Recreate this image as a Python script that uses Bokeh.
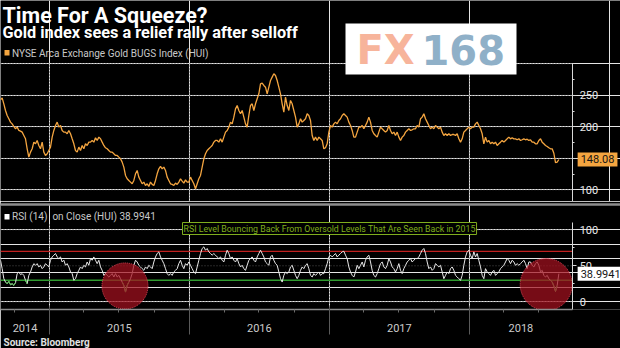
import numpy as np
import pandas as pd
from bokeh.plotting import figure
from bokeh.layouts import column
from bokeh.models import (Range1d, LinearAxis, DatetimeAxis, FixedTicker, DatetimeTickFormatter,
                          Label, BoxAnnotation, Legend, LegendItem, Title)
from bokeh.embed import file_html
from bokeh.resources import INLINE

# ---------------- data ----------------
hui = [
    242.8, 246.0, 236.5, 225.9, 218.0, 212.7, 207.4, 204.7, 200.5, 196.8,
    199.5, 194.2, 193.1, 191.5, 186.2, 180.9, 165.1, 151.8, 159.8, 165.1,
    175.6, 173.0, 178.3, 170.4, 165.1, 175.6, 159.8, 154.5, 157.1, 162.4,
    167.7, 183.6, 194.2, 202.1, 207.4, 199.5, 202.1, 194.2, 191.5, 191.5,
    188.9, 194.2, 188.9, 180.9, 173.0, 162.4, 159.8, 167.7, 162.4, 170.4,
    165.1, 173.0, 170.4, 175.6, 175.6, 178.3, 175.6, 182.5, 178.3, 183.6,
    180.9, 175.6, 170.4, 166.7, 165.1, 162.4, 159.8, 159.8, 157.1, 154.5,
    154.5, 151.8, 149.2, 143.9, 136.0, 122.7, 117.5, 114.8, 112.2, 109.5,
    114.8, 125.4, 130.7, 120.1, 114.8, 109.5, 112.2, 106.9, 109.5, 105.3,
    112.2, 108.5, 106.9, 114.8, 125.4, 133.3, 137.0, 133.3, 136.0, 130.7,
    120.1, 114.8, 109.5, 108.5, 106.9, 110.6, 108.5, 112.2, 117.5, 113.8,
    110.6, 115.9, 112.2, 112.2, 120.1, 114.8, 109.5, 101.6, 109.5, 117.5,
    122.7, 136.0, 149.2, 157.1, 162.4, 165.1, 167.7, 170.4, 175.6, 178.3,
    178.3, 175.6, 180.9, 175.6, 183.6, 191.5, 194.2, 199.5, 207.4, 204.7,
    215.3, 228.5, 233.8, 225.9, 220.6, 225.9, 215.3, 204.7, 199.5, 218.0,
    233.8, 236.5, 225.9, 236.5, 244.4, 252.4, 268.2, 269.3, 265.6, 262.9,
    252.4, 262.9, 273.5, 278.8, 284.1, 281.4, 273.5, 262.9, 252.4, 236.5,
    223.3, 247.1, 233.8, 225.9, 241.8, 236.5, 225.9, 215.3, 199.5, 204.7,
    212.7, 207.4, 210.0, 212.7, 220.6, 218.0,
    210.0, 186.2, 178.3, 183.6, 178.3, 183.6, 180.9, 178.3, 165.1, 166.7,
    173.0, 191.5, 202.1, 199.5, 204.7, 207.4, 204.7, 210.0, 212.7, 218.0,
    220.6, 218.0, 215.3, 207.4, 202.1, 194.2, 183.6, 183.6, 191.5, 199.5,
    199.5, 202.1, 196.8, 202.1, 207.4, 215.3, 207.4, 194.2, 188.9, 186.2,
    183.6, 191.5, 199.5, 196.8, 194.2, 191.5, 194.2, 202.1, 194.2, 188.9,
    191.5, 186.2, 191.5, 183.6, 178.3, 183.6, 186.2, 191.5, 194.2, 196.8,
    194.2, 195.2, 196.8, 196.8, 202.1, 199.5, 212.7, 215.3, 220.6, 212.7,
    207.4, 202.1, 196.8, 199.5, 196.8, 202.1, 199.5, 196.8, 199.5, 191.5,
    186.2, 188.9, 186.2, 188.9, 186.2, 187.8, 187.8, 186.2, 188.9, 180.9,
    175.6, 180.9, 191.5, 194.2, 196.8, 199.5, 196.8, 199.5, 199.5, 204.7,
    207.4, 202.1, 196.8, 188.9, 173.0, 183.6, 175.6, 178.3, 173.0, 175.6,
    173.0, 175.6, 170.4, 173.0, 175.6, 178.3, 175.6, 178.3, 180.9, 183.6,
    180.9, 182.5, 180.9, 180.9, 179.4, 180.9, 178.3, 179.4, 180.9, 179.4,
    180.4, 178.3, 179.4, 175.6, 175.6, 173.0, 173.0, 178.3, 180.9, 175.6,
    173.0, 170.4, 168.8, 166.7, 165.1,
    165.0, 158.0, 143.0, 144.0, 148.08,
]

rsi = [
    57.7, 46.0, 32.1, 27.4, 25.1, 28.4, 23.7, 25.1, 22.8, 26.5,
    39.1, 41.4, 37.7, 39.1, 36.7, 29.8, 25.1, 36.7, 41.4, 48.4,
    53.0, 50.7, 53.0, 48.4, 50.7, 46.0, 48.4, 53.0, 50.7, 48.4,
    57.7, 62.3, 64.7, 67.0, 62.3, 60.0, 62.3, 55.3, 57.7, 50.7,
    53.0, 48.4, 41.4, 39.1, 29.8, 32.1, 39.1, 43.7, 48.4, 46.0,
    50.7, 48.4, 55.3, 50.7, 60.0, 57.7, 62.3, 57.7, 53.0, 57.7,
    48.4, 43.7, 36.7, 39.1, 36.7, 34.4, 36.7, 39.1, 34.4, 39.1,
    34.4, 36.7, 32.1, 27.4, 22.8, 13.5, 22.8, 27.4, 32.1, 39.1,
    50.7, 57.7, 55.3, 50.7, 48.4, 46.0, 43.7,
    48.4, 46.0, 50.7, 48.4, 46.0, 55.3, 62.3, 67.0, 69.3, 62.3,
    57.7, 53.0, 46.0, 39.1, 36.7, 39.1, 36.7, 41.4, 43.7, 46.0,
    53.0, 57.7, 50.7, 46.0, 53.0, 50.7, 55.3, 50.7, 46.0, 41.4,
    39.1, 48.4, 57.7, 67.0, 74.0, 76.3, 71.6, 74.0, 69.3, 67.0,
    64.7, 67.0, 64.7, 62.3, 60.0, 62.3, 57.7, 55.3, 64.7, 71.6,
    67.0, 60.0, 62.3, 57.7, 55.3, 60.0, 53.0, 48.4, 50.7, 46.0,
    43.7, 50.7, 57.7, 60.0, 62.3, 57.7, 55.3, 62.3, 67.0, 71.6,
    67.0, 62.3, 55.3, 53.0, 50.7, 62.3, 64.7, 57.7, 53.0, 50.7,
    41.4, 32.1, 27.4, 36.7, 41.4, 39.1, 41.4,
    48.4, 50.7, 43.7, 36.7, 32.1, 36.7, 43.7, 48.4, 46.0, 50.7,
    53.0, 46.0, 36.7, 34.4, 39.1, 36.7, 39.1, 41.4, 36.7, 39.1,
    39.1, 46.0, 53.0, 62.3, 64.7, 62.3, 64.7, 67.0, 62.3, 64.7,
    67.0, 69.3, 70.2, 64.7, 60.0, 48.4, 41.4, 36.7, 34.4, 41.4,
    50.7, 46.0, 50.7, 55.3, 48.4, 57.7, 62.3, 64.7, 55.3, 43.7,
    36.7, 34.4, 39.1, 46.0, 53.0, 55.3, 48.4, 46.0, 50.7, 60.0,
    55.3, 48.4, 46.0, 41.4, 46.0, 53.0, 43.7, 39.1, 46.0, 50.7,
    55.3, 57.7, 60.0, 55.3, 57.7, 60.0, 60.0, 62.3, 67.0, 71.6,
    74.0, 67.0, 55.3, 46.0, 48.4, 43.7, 46.0,
    53.0, 50.7, 48.4, 50.7, 41.4, 32.1, 36.7, 41.4, 39.1, 46.0,
    48.4, 43.7, 36.7, 34.4, 32.1, 29.8, 36.7, 50.7, 62.3, 69.3,
    71.6, 64.7, 60.0, 69.3, 62.3, 67.0, 57.7, 48.4, 36.7, 32.1,
    46.0, 41.4, 39.1, 36.7, 41.4, 43.7, 36.7, 39.1, 41.4, 46.0,
    48.4, 50.7, 55.3, 60.0, 57.7, 53.0, 57.7, 55.3, 50.7, 53.0,
    50.7, 53.0, 55.3, 57.7, 53.0, 46.0, 55.3, 55.3, 50.7, 48.4,
    53.0, 55.3, 50.7, 41.4, 43.7, 36.7, 34.4, 36.7, 32.1, 29.8,
    27.4, 22.0, 14.4, 22.8, 38.9941,
]

first_date = "2014-08-26"
last_date = "2018-08-23"
view_start = "2014-08-26"
view_end = "2018-09-28"      # where the value axis sits
frame_end = "2019-01-31"     # right edge of the picture
year_starts = ["2015-01-01", "2016-01-01", "2017-01-01", "2018-01-01"]
quarter_starts = ["2014-10-01", "2015-04-01", "2015-07-01", "2015-10-01", "2016-04-01",
                  "2016-07-01", "2016-10-01", "2017-04-01", "2017-07-01", "2017-10-01",
                  "2018-04-01", "2018-07-01"]
price_ticks = [100, 150, 200, 250]
price_minor = [125, 175, 225, 275, 300]
price_grid = [100, 150, 200, 250, 300]
rsi_ticks = [0, 50, 100]
rsi_minor = [25, 75]
overbought, oversold = 70, 30
last_price = 148.08
last_rsi = 38.9941
highlight_dates = ["2015-07-17", "2018-07-21"]
highlight_rsi = [22, 24]
highlight_radius = [23, 26]

title = "Time For A Squeeze?"
subtitle = "Gold index sees a relief rally after selloff"
price_name = "NYSE Arca Exchange Gold BUGS Index (HUI)"
rsi_name = "RSI (14)  on Close (HUI) 38.9941"
note = "RSI Level Bouncing Back From Oversold Levels That Are Seen Back in 2015"
source = "Source: Bloomberg"

# ---------------- helpers ----------------
def ms(d):
    return pd.Timestamp(d).value / 1e6

dates = pd.date_range(first_date, last_date, periods=len(hui))
hui_a = np.array(hui, dtype=float)
rsi_a = np.array(rsi, dtype=float)
rsi_low = np.where(rsi_a <= oversold, rsi_a, np.nan)

year_ms = [ms(d) for d in year_starts]
quarter_ms = [ms(d) for d in quarter_starts]
bounds_ms = [ms(view_start)] + year_ms + [ms(view_end)]
mid_ms = [(a + b) / 2 for a, b in zip(bounds_ms[:-1], bounds_ms[1:])]
year_dates = [pd.Timestamp(d) for d in year_starts]
x0s = pd.Timestamp(view_start)
x1s = pd.Timestamp(view_end)

BG = "black"
ORANGE = "#f4a540"
GRID = "#505050"
AX = "#d8d8d8"
FONT = "Roboto"

W = 620
H1 = 201
H2 = 147
P_LO, P_HI = 81.4, 400.5
R_LO, R_HI = -10.7, 135.1

xr = Range1d(pd.Timestamp(view_start), pd.Timestamp(frame_end))

def base(height, y_range, top, bottom):
    return figure(width=W, height=height, x_range=xr, y_range=y_range,
                  x_axis_type="datetime", x_axis_location=None, y_axis_location=None,
                  output_backend="svg", toolbar_location=None,
                  min_border_left=0, min_border_right=0, min_border_top=top,
                  min_border_bottom=bottom, background_fill_color=BG, border_fill_color=BG,
                  outline_line_color=None)

def value_axis(ticks, minor, lo, hi):
    return LinearAxis(ticker=FixedTicker(ticks=ticks, minor_ticks=minor),
                      fixed_location=ms(view_end), bounds=(lo, hi),
                      axis_line_color=AX, axis_line_width=1,
                      major_tick_line_color=AX, major_tick_out=4, major_tick_in=0,
                      minor_tick_line_color=AX, minor_tick_out=2, minor_tick_in=0,
                      major_label_text_color="#e6e6e6", major_label_text_font_size="11px",
                      major_label_text_font=FONT, major_label_standoff=3)

def swatch(color, top, bottom):
    return BoxAnnotation(left=4, right=9, top=top, bottom=bottom,
                         left_units="screen", right_units="screen", top_units="screen",
                         bottom_units="screen", fill_color=color, fill_alpha=1, line_color=None)

def legend(label, renderer, y):
    return Legend(items=[LegendItem(label=label, renderers=[renderer])], location=(0, y),
                  background_fill_alpha=0, border_line_color=None, padding=0, margin=0,
                  glyph_width=12, glyph_height=14, label_height=14, label_standoff=0,
                  label_text_color="#c8c8c8", label_text_font_size="10px",
                  label_text_font=FONT)

# ---------------- top panel: price ----------------
p1 = base(H1, Range1d(P_LO, P_HI), 0, 0)

n = len(price_grid)
p1.segment(x0=[x0s] * n, y0=price_grid, x1=[x1s] * n, y1=price_grid,
           line_color=GRID, line_dash="1 2", line_width=1)
p1.segment(x0=year_dates, y0=[P_LO] * 4, x1=year_dates, y1=[price_grid[-1]] * 4,
           line_color=GRID, line_dash="1 2", line_width=1)

p1.line(dates, hui_a, line_color=ORANGE, line_width=1.3)

p1.add_layout(value_axis(price_ticks, price_minor, P_LO, price_grid[-1]), "right")

sq1 = p1.scatter(x=[], y=[], marker="square", fill_color=ORANGE, line_color=ORANGE)
p1.add_layout(legend(price_name, sq1, H1 - 60))
p1.add_layout(swatch(ORANGE, H1 - 49.5, H1 - 55))

p1.add_layout(Label(x=2, y=H1 - 15, x_units="screen", y_units="screen", text=title,
                    text_color="white", text_font=FONT, text_font_style="bold",
                    text_font_size="21.5px", text_baseline="middle"))
p1.add_layout(Label(x=2, y=H1 - 32, x_units="screen", y_units="screen", text=subtitle,
                    text_color="white", text_font=FONT, text_font_style="bold",
                    text_font_size="16.3px", text_baseline="middle"))

# FX168 watermark
p1.add_layout(BoxAnnotation(left=345, right=516, top=H1 - 23, bottom=H1 - 74,
                            left_units="screen", right_units="screen", top_units="screen",
                            bottom_units="screen", fill_color="white", fill_alpha=1,
                            line_color=None))
p1.add_layout(Label(x=356, y=H1 - 49, x_units="screen", y_units="screen", text="FX",
                    text_color="#f7b49b", text_font="DejaVu Sans", text_font_style="bold",
                    text_font_size="40px", text_baseline="middle"))
p1.add_layout(Label(x=421, y=H1 - 49, x_units="screen", y_units="screen", text="168",
                    text_color="#8fb0c8", text_font="DejaVu Sans", text_font_style="bold",
                    text_font_size="40px", text_baseline="middle"))

p1.add_layout(Label(x=ms(view_end), y=last_price, x_offset=5, text=f"{last_price:.2f}",
                    text_color="#151515", text_font=FONT, text_font_size="11px",
                    text_baseline="middle", background_fill_color=ORANGE, padding=3))

# ---------------- bottom panel: RSI ----------------
p2 = base(H2, Range1d(R_LO, R_HI), 3, 39)

sep = DatetimeAxis(ticker=FixedTicker(ticks=[]), axis_line_color="#8c8c8c", axis_line_width=2.5,
                   major_tick_out=0, major_tick_in=0, minor_tick_out=0, minor_tick_in=0,
                   major_label_standoff=0)
p2.add_layout(sep, "above")

n = len(rsi_ticks)
p2.segment(x0=[x0s] * n, y0=rsi_ticks, x1=[x1s] * n, y1=rsi_ticks,
           line_color=GRID, line_dash="1 2", line_width=1)
p2.segment(x0=year_dates, y0=[R_LO] * 4, x1=year_dates, y1=[110] * 4,
           line_color=GRID, line_dash="1 2", line_width=1)
p2.segment(x0=[x0s], y0=[overbought], x1=[x1s], y1=[overbought],
           line_color="#c0201f", line_width=1.4)
p2.segment(x0=[x0s], y0=[oversold], x1=[x1s], y1=[oversold],
           line_color="#2f9b2f", line_width=1.4)

p2.line(dates, rsi_a, line_color="#e8e8e8", line_width=1)
p2.line(dates, rsi_low, line_color="#4cc24c", line_width=1)

p2.circle(x=[pd.Timestamp(d) for d in highlight_dates], y=highlight_rsi, radius=highlight_radius,
          radius_units="screen", fill_color="#a3101f", fill_alpha=0.72,
          line_color="#e5485a", line_dash="1 1", line_width=1)

# year labels axis (panel bottom line, quarter ticks)
xl = DatetimeAxis(ticker=FixedTicker(ticks=mid_ms, minor_ticks=quarter_ms + year_ms),
                  bounds=(ms(view_start), ms(view_end)),
                  formatter=DatetimeTickFormatter(years="%Y", months="%Y", days="%Y",
                                                  hours="%Y", minutes="%Y"),
                  axis_line_color="#8c8c8c", axis_line_width=1.5,
                  major_tick_line_color=None, major_tick_out=0, major_tick_in=0,
                  minor_tick_line_color="#6a6a6a", minor_tick_out=3, minor_tick_in=0,
                  major_label_standoff=11, major_label_text_color="#cccccc",
                  major_label_text_font_size="11px", major_label_text_font=FONT)
p2.add_layout(xl, "below")
# year separators pointing up from below the labels
xs = DatetimeAxis(ticker=FixedTicker(ticks=[], minor_ticks=year_ms),
                  bounds=(ms(view_start), ms(view_end)),
                  axis_line_color=None, major_tick_line_color=None,
                  major_tick_out=0, major_tick_in=0,
                  minor_tick_line_color="#5a5a5a", minor_tick_out=0, minor_tick_in=28,
                  major_label_standoff=0)
p2.add_layout(xs, "below")
p2.add_layout(Title(text=source, align="left", offset=3, standoff=0, text_color="#e0e0e0",
                    text_font=FONT, text_font_style="bold", text_font_size="10px"), "below")

p2.add_layout(value_axis(rsi_ticks, rsi_minor, R_LO, 110), "right")

sq2 = p2.scatter(x=[], y=[], marker="square", fill_color="white", line_color="white")
p2.add_layout(legend(rsi_name, sq2, 86))
p2.add_layout(swatch("white", 309 - 210.5 - 3, 309 - 216 - 3))

p2.add_layout(Label(x=182, y=81, x_units="screen", y_units="screen", text=note,
                    text_color="#7fae1e", text_font=FONT, text_font_size="8.8px",
                    text_baseline="middle", background_fill_color=BG,
                    border_line_color="#7fae1e", border_line_width=1, padding=1))

p2.add_layout(Label(x=ms(view_end), y=last_rsi, x_offset=5, text=f"{last_rsi:.4f}",
                    text_color="#151515", text_font=FONT, text_font_size="11px",
                    text_baseline="middle", background_fill_color="white", padding=3))

layout = column(p1, p2, spacing=0)
open("out.html", "w").write(file_html(layout, INLINE))
